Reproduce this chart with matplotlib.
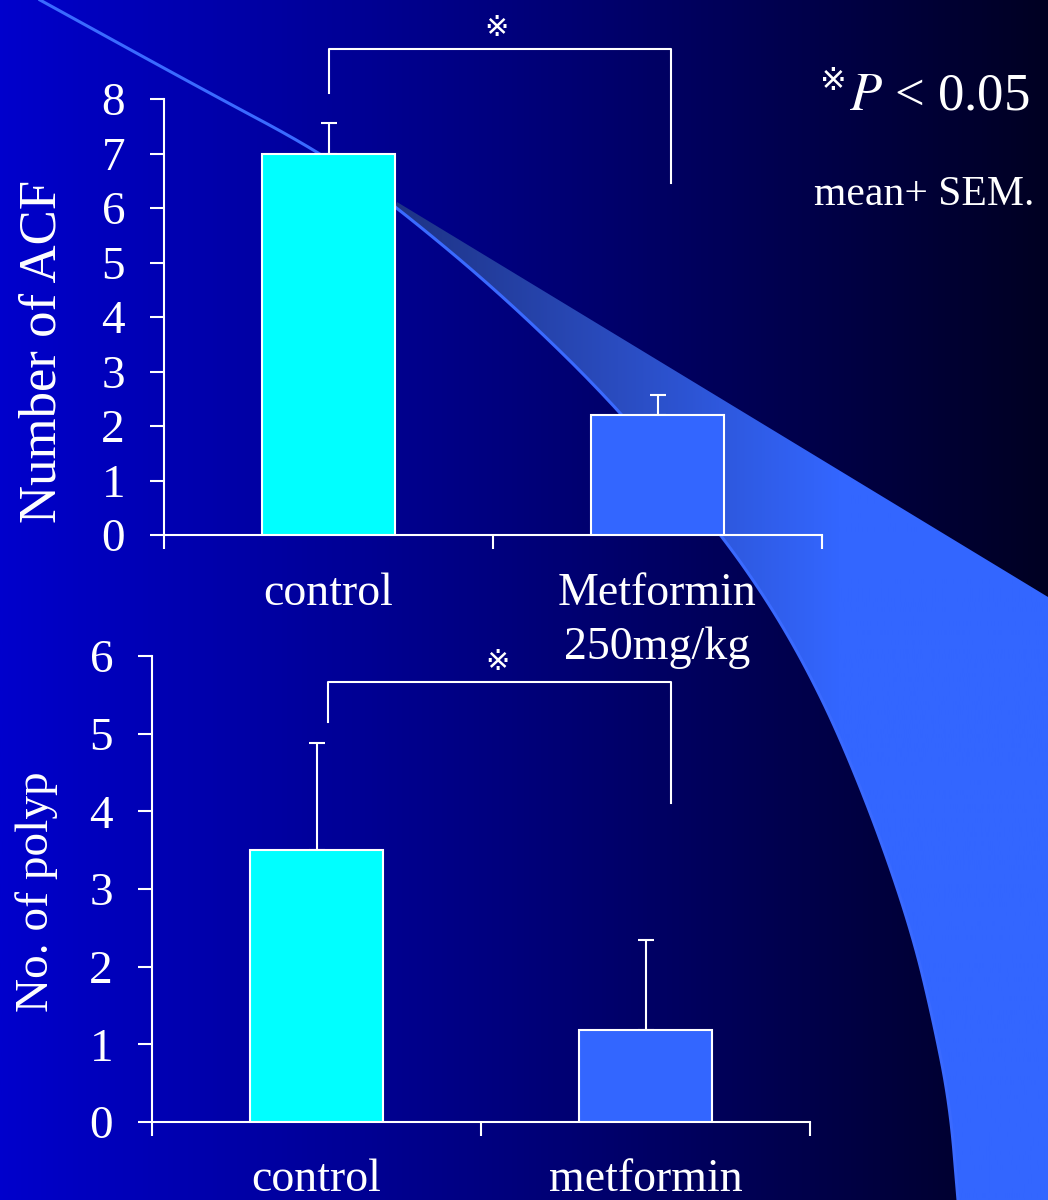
import numpy as np
import matplotlib
matplotlib.use('Agg')
import matplotlib.pyplot as plt
from matplotlib.colors import LinearSegmentedColormap
from matplotlib.patches import Polygon

# data
groups = [0, 1]
acf_labels = ['control', 'Metformin\n250mg/kg']
acf_mean = [7.0, 2.2]
acf_sem = [0.56, 0.37]
polyp_labels = ['control', 'metformin']
polyp_mean = [3.5, 1.18]
polyp_sem = [1.38, 1.16]
bar_colors = ['#00FFFF', '#3366FF']

plt.rcParams['font.family'] = ['Liberation Serif', 'DejaVu Sans']
plt.rcParams['mathtext.fontset'] = 'stix'
SERIF = ['Liberation Serif', 'DejaVu Sans', 'Noto Sans CJK JP']
MARK = ['DejaVu Sans', 'Noto Sans CJK JP']

fig = plt.figure(figsize=(10.48, 12), dpi=100)

# ---- background (pixel coordinates) ----
bg = fig.add_axes([0, 0, 1, 1])
bg.set_xlim(0, 1048)
bg.set_ylim(1200, 0)
bg.axis('off')
bg_cmap = LinearSegmentedColormap.from_list('bg', ['#0000CC', '#00007A', '#000022'])
bg.imshow(np.linspace(0, 1, 512)[None, :], cmap=bg_cmap, extent=(0, 1048, 1200, 0),
          aspect='auto', zorder=0)


def smooth(pts, n=3):
    for _ in range(n):
        q = 0.75 * pts[:-1] + 0.25 * pts[1:]
        r = 0.25 * pts[:-1] + 0.75 * pts[1:]
        mid = np.empty((2 * len(q), 2))
        mid[0::2] = q
        mid[1::2] = r
        pts = np.vstack([pts[0], mid, pts[-1]])
    return pts


curve = smooth(np.array([(40, 0), (200, 88), (320, 152), (397, 207), (508, 300), (623, 413),
                         (720, 533), (767, 600), (805, 665), (840, 737), (880, 837),
                         (913, 936), (933, 1019), (950, 1105), (958, 1200)], float))
apex = np.argmin(np.abs(curve[:, 0] - 397) + np.abs(curve[:, 1] - 207))
poly_pts = np.vstack([curve[apex:], [(1048, 1200), (1048, 597), (397, 202)]])
swoosh = Polygon(poly_pts, closed=True, facecolor='none', edgecolor='none')
bg.add_patch(swoosh)
xs = np.linspace(0, 1048, 600)
fill = np.clip((xs - 397) / (840 - 397), 0, 1)[None, :]
sw_cmap = LinearSegmentedColormap.from_list('sw', ['#1E3385', '#2A4CC0', '#3366FF'])
im = bg.imshow(fill, cmap=sw_cmap, extent=(0, 1048, 1200, 0), aspect='auto', zorder=1)
im.set_clip_path(swoosh)
bg.plot(curve[:, 0], curve[:, 1], color='#3A6AFF', lw=2.2, zorder=2)


def style_axes(ax, ymax, xlabels, pad):
    ax.patch.set_alpha(0)
    ax.set_xlim(-0.5, 1.5)
    ax.set_ylim(0, ymax)
    ax.set_yticks(range(0, ymax + 1))
    ax.set_xticks(groups)
    ax.set_xticklabels(xlabels, fontsize=33, color='white', family=SERIF, linespacing=1.35)
    ax.set_xticks([-0.5, 0.5, 1.5], minor=True)
    ax.tick_params(axis='x', which='major', length=0, pad=pad)
    ax.tick_params(axis='x', which='minor', length=10, width=1.5, color='white', direction='out')
    ax.tick_params(axis='y', length=10, width=1.5, color='white', labelcolor='white',
                   labelsize=34, pad=18)
    for lab in ax.get_yticklabels():
        lab.set_family(SERIF)
    for s in ['top', 'right']:
        ax.spines[s].set_visible(False)
    for s in ['left', 'bottom']:
        ax.spines[s].set_color('white')
        ax.spines[s].set_linewidth(1.5)


# ---- top chart: ACF ----
ax1 = fig.add_axes([164 / 1048, 1 - 535 / 1200, 658 / 1048, 436 / 1200], zorder=3)
ax1.bar(groups, acf_mean, width=0.405, color=bar_colors, edgecolor='white', linewidth=1.5, zorder=3)
ax1.errorbar(groups, acf_mean, yerr=[[0, 0], acf_sem], fmt='none', ecolor='white',
             elinewidth=1.5, capsize=6, capthick=1.5, zorder=2)
style_axes(ax1, 8, acf_labels, 27)
ax1.set_ylabel('Number of ACF', fontsize=38, color='white', family=SERIF, va='center')
ax1.yaxis.set_label_coords(-0.185, 0.42)
ax1.plot([0, 0, 1.04, 1.04], [8.11, 8.92, 8.92, 6.46], color='white', lw=1.5, clip_on=False)
ax1.text(0.51, 9.3, '※', fontsize=21, color='white', ha='center', va='center', family=MARK)

# ---- bottom chart: polyp ----
ax2 = fig.add_axes([152 / 1048, 1 - 1122 / 1200, 658 / 1048, 466 / 1200], zorder=3)
ax2.bar(groups, polyp_mean, width=0.405, color=bar_colors, edgecolor='white', linewidth=1.5, zorder=3)
ax2.errorbar(groups, polyp_mean, yerr=[[0, 0], polyp_sem], fmt='none', ecolor='white',
             elinewidth=1.5, capsize=6, capthick=1.5, zorder=2)
style_axes(ax2, 6, polyp_labels, 26)
ax2.set_ylabel('No. of polyp', fontsize=34, color='white', family=SERIF, va='center')
ax2.yaxis.set_label_coords(-0.175, 0.494)
ax2.plot([0.034, 0.034, 1.079, 1.079], [5.15, 5.66, 5.66, 4.11], color='white', lw=1.5, clip_on=False)
ax2.text(0.55, 5.92, '※', fontsize=21, color='white', ha='center', va='center', family=MARK)

# ---- notes on the right ----
fig.text(1030 / 1048, 1 - 110 / 1200, '$P$ < 0.05', fontsize=38, color='white',
         ha='right', va='baseline', family=SERIF)
fig.text(847 / 1048, 1 - 90 / 1200, '※', fontsize=23, color='white', ha='right',
         va='baseline', family=MARK)
fig.text(924 / 1048, 1 - 205 / 1200, 'mean+ SEM.', fontsize=30, color='white',
         ha='center', va='baseline', family=SERIF)

fig.savefig('out.png', dpi=100)
